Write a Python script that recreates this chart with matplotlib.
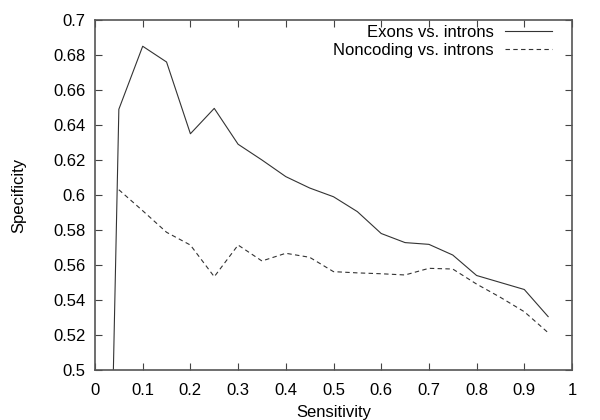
import matplotlib
matplotlib.use('Agg')
import matplotlib.pyplot as plt
import matplotlib.ticker as ticker
import numpy as np

plt.rcParams['font.family'] = ['Liberation Sans', 'DejaVu Sans']

# sensitivity values (x)
sens_exons = [0.0, 0.05, 0.1, 0.15, 0.2, 0.25, 0.3, 0.35, 0.4, 0.45, 0.5,
              0.55, 0.6, 0.65, 0.7, 0.75, 0.8, 0.85, 0.9, 0.95]
spec_exons = [0.0, 0.649, 0.685, 0.676, 0.635, 0.6495, 0.629, 0.620, 0.6105, 0.604, 0.599,
              0.5905, 0.578, 0.5728, 0.5718, 0.5657, 0.554, 0.550, 0.546, 0.5305]

sens_noncoding = [0.05, 0.1, 0.15, 0.2, 0.25, 0.3, 0.35, 0.4, 0.45, 0.5,
                  0.55, 0.6, 0.65, 0.7, 0.75, 0.8, 0.85, 0.9, 0.95]
spec_noncoding = [0.603, 0.591, 0.5787, 0.5714, 0.5533, 0.5714, 0.5623, 0.5667, 0.5644, 0.5562,
                  0.5555, 0.555, 0.5543, 0.5581, 0.5577, 0.5491, 0.5415, 0.5333, 0.5213]

xticks = np.arange(0, 1.01, 0.1)
yticks = np.arange(0.5, 0.701, 0.02)

fig = plt.figure(figsize=(6, 4.2), dpi=100)
ax = fig.add_axes([95/600, 50/420, 477/600, 350/420])

ax.plot(sens_exons, spec_exons, color='#333333', linewidth=0.8, label='Exons vs. introns')
ax.plot(sens_noncoding, spec_noncoding, color='#333333', linewidth=0.8,
        linestyle=(0, (4, 3)), label='Noncoding vs. introns')

ax.set_xlim(0, 1)
ax.set_ylim(0.5, 0.7)
ax.set_xticks(xticks)
ax.set_yticks(yticks)
ax.xaxis.set_major_formatter(ticker.FuncFormatter(lambda v, p: '%g' % round(v, 2)))
ax.yaxis.set_major_formatter(ticker.FuncFormatter(lambda v, p: '%g' % round(v, 2)))
ax.tick_params(direction='in', length=5, width=0.8, color='#444444',
               top=True, right=True, labelsize=12, pad=9.5)
ax.tick_params(axis='y', pad=7)
for s in ax.spines.values():
    s.set_color('#555555')
    s.set_linewidth(1.2)

ax.set_xlabel('Sensitivity', fontsize=12, labelpad=5)
ax.set_ylabel('Specificity', fontsize=12, labelpad=19)

ax.legend(loc='upper right', bbox_to_anchor=(0.958, 0.986), frameon=False,
          markerfirst=False, fontsize=12, handlelength=2.8, handletextpad=0.7,
          labelspacing=0.2, borderaxespad=0, borderpad=0)

plt.savefig('out.png', dpi=100)
